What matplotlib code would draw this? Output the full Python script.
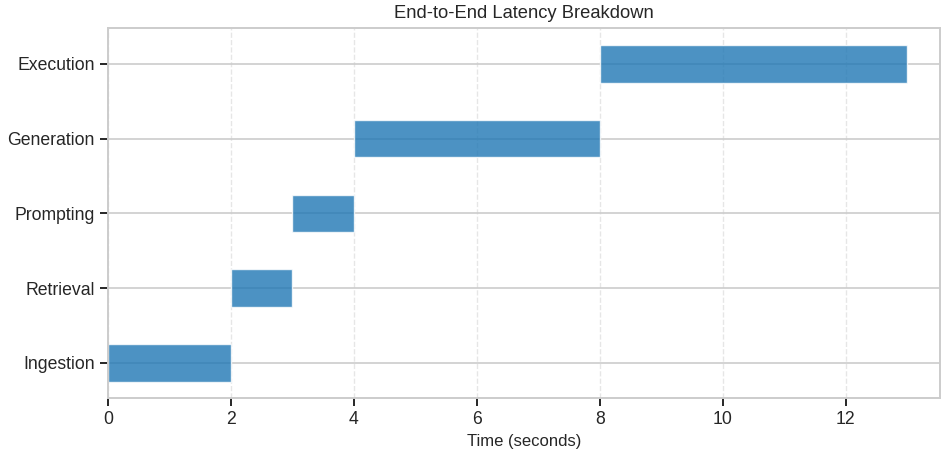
import matplotlib.pyplot as plt
import seaborn as sns

# pipeline stages, start time and duration (seconds)
stages = ["Ingestion", "Retrieval", "Prompting", "Generation", "Execution"]
starts = [0, 2, 3, 4, 8]
durations = [2, 1, 1, 4, 5]

sns.set_style("whitegrid", {"xtick.bottom": True, "ytick.left": True})
plt.rcParams["font.family"] = ["Liberation Sans", "DejaVu Sans"]

fig = plt.figure(figsize=(9.41, 4.54), dpi=100)
ax = fig.add_axes([108 / 941, 1 - 398 / 454, 832 / 941, 370 / 454])

ax.barh(stages, durations, left=starts, height=0.5, color="#1f77b4", alpha=0.8, zorder=2)

ax.set_xlim(0, 13.53)
ax.set_ylim(-0.47, 4.48)
ax.set_title("End-to-End Latency Breakdown", fontsize=13.2, color="#262626", pad=7)
ax.set_xlabel("Time (seconds)", fontsize=12, color="#262626", labelpad=4)

ax.grid(axis="y", color="#cccccc", linewidth=1.2, zorder=0)
ax.grid(axis="x", color="#e6e6e6", linestyle="--", linewidth=1, zorder=0)
ax.set_axisbelow(True)
ax.tick_params(axis="both", labelsize=12.7, colors="#262626", length=6, width=1.4,
               pad=3.5, direction="out")
for s in ax.spines.values():
    s.set_color("#cccccc")
    s.set_linewidth(1.4)

fig.savefig("out.png", dpi=100)
